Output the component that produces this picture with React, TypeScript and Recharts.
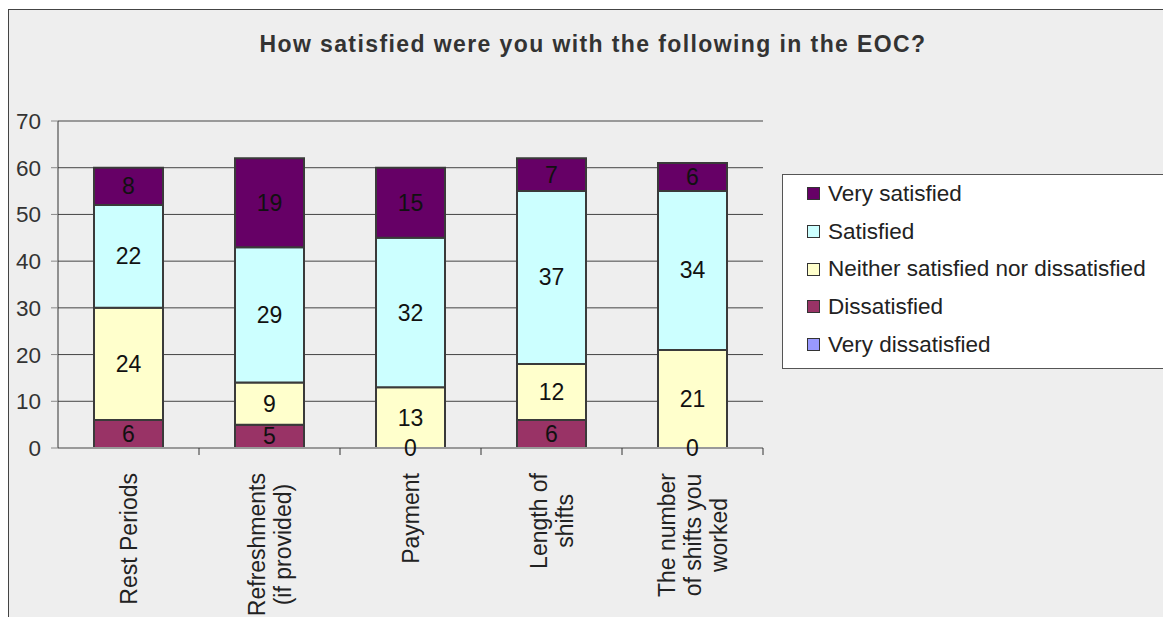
import React from "react";
import { BarChart, Bar, XAxis, YAxis, CartesianGrid, LabelList, Legend } from "recharts";

// categories (line breaks = wrapped axis labels)
const categories = [
  "Rest Periods",
  "Refreshments\n(if provided)",
  "Payment",
  "Length of\nshifts",
  "The number\nof shifts you\nworked",
];

const veryDissatisfied = [null, null, null, null, null];
const dissatisfied = [6, 5, 0, 6, 0];
const neither = [24, 9, 13, 12, 21];
const satisfied = [22, 29, 32, 37, 34];
const verySatisfied = [8, 19, 15, 7, 6];

const yTicks = [0, 10, 20, 30, 40, 50, 60, 70];

const FONT = '"Liberation Sans", Arial, sans-serif';

// bottom to top of the stack
const series = [
  { key: "veryDissatisfied", name: "Very dissatisfied", color: "#9999ff", values: veryDissatisfied },
  { key: "dissatisfied", name: "Dissatisfied", color: "#993366", values: dissatisfied },
  { key: "neither", name: "Neither satisfied nor dissatisfied", color: "#ffffcc", values: neither },
  { key: "satisfied", name: "Satisfied", color: "#ccffff", values: satisfied },
  { key: "verySatisfied", name: "Very satisfied", color: "#660066", values: verySatisfied },
];

const data = categories.map((category, i) => {
  const row: Record<string, any> = { category };
  series.forEach((s) => (row[s.key] = s.values[i]));
  return row;
});

const W = 1154;
const H = 607;
const MARGIN = { top: 111, right: 400, bottom: 0, left: 0 };
const Y_AXIS_W = 49;
const X_AXIS_H = 169;
const AXIS_Y = H - MARGIN.bottom - X_AXIS_H;
const STEP = (W - MARGIN.left - Y_AXIS_W - MARGIN.right) / categories.length;
const LABEL_SIZE = 23;

let ctx: CanvasRenderingContext2D | null = null;
const textWidth = (s: string) => {
  if (!ctx && typeof document !== "undefined") ctx = document.createElement("canvas").getContext("2d");
  if (!ctx) return s.length * 11;
  ctx.font = `${LABEL_SIZE}px ${FONT}`;
  return ctx.measureText(s).width;
};

const CategoryTick = ({ x, payload }: any) => {
  const lines = String(payload.value).split("\n");
  const longest = Math.max(...lines.map(textWidth));
  const cy = AXIS_Y + 25 + longest / 2;
  const n = lines.length;
  return (
    <g>
      <line x1={x + STEP / 2} x2={x + STEP / 2} y1={AXIS_Y} y2={AXIS_Y + 7} stroke="#333" />
      <g transform={`translate(${x},${cy}) rotate(-90)`}>
        {lines.map((l, i) => (
          <text
            key={i}
            x={0}
            y={(i - (n - 1) / 2) * 26}
            textAnchor="middle"
            dominantBaseline="central"
            fontSize={LABEL_SIZE}
            fontFamily={FONT}
            fill="#222"
          >
            {l}
          </text>
        ))}
      </g>
    </g>
  );
};

const numText = (x: number, y: number, v: any, key: string) => (
  <text
    key={key}
    x={x}
    y={y}
    textAnchor="middle"
    dominantBaseline="central"
    fontSize={LABEL_SIZE}
    fontFamily={FONT}
    fill="#111"
  >
    {v}
  </text>
);

// label for each segment; a zero segment just below is labelled at this segment's base
const makeSegLabel = (seriesIdx: number) => (props: any) => {
  const { value, index } = props;
  const vb = props.viewBox ?? props;
  const x = Number(vb.x ?? props.x);
  const y = Number(vb.y ?? props.y);
  const w = Number(vb.width ?? props.width);
  const h = Number(vb.height ?? props.height);
  const out: any[] = [];
  if (value !== null && value !== undefined && value !== 0) out.push(numText(x + w / 2, y + h / 2, value, "v"));
  const below = seriesIdx > 0 ? series[seriesIdx - 1].values[index] : null;
  if (below === 0) out.push(numText(x + w / 2, y + h, 0, "z"));
  return out.length ? <g>{out}</g> : null;
};

const LegendBox = () => (
  <div
    style={{
      width: 392,
      height: 195,
      background: "#fff",
      border: "1px solid #555",
      boxSizing: "border-box",
      fontFamily: FONT,
    }}
  >
    {[...series].reverse().map((s) => (
      <div key={s.key} style={{ display: "flex", alignItems: "center", height: 37.7, paddingLeft: 24 }}>
        <span
          style={{
            display: "inline-block",
            width: 11,
            height: 11,
            background: s.color,
            border: "1px solid #333",
            marginRight: 8,
          }}
        />
        <span style={{ fontSize: 22.5, color: "#222", whiteSpace: "nowrap" }}>{s.name}</span>
      </div>
    ))}
  </div>
);

export default function App() {
  return (
    <>
      <style>{"body{margin:0;overflow:hidden}"}</style>
      <div
        style={{
          position: "absolute",
          left: 8,
          top: 9,
          width: W,
          height: H,
          borderLeft: "1px solid #444",
          borderTop: "1px solid #444",
          background: "#eeeeee",
          overflow: "hidden",
          fontFamily: FONT,
        }}
      >
        <div
          style={{
            position: "absolute",
            left: 0,
            top: 21,
            width: 1168,
            textAlign: "center",
            fontSize: 23,
            lineHeight: "26px",
            fontWeight: "bold",
            letterSpacing: 1.4,
            color: "#333",
            zIndex: 2,
          }}
        >
          How satisfied were you with the following in the EOC?
        </div>
        <BarChart width={W} height={H} data={data} margin={MARGIN}>
          <CartesianGrid vertical={false} stroke="#444" />
          <XAxis
            dataKey="category"
            height={X_AXIS_H}
            interval={0}
            tickLine={false}
            tickSize={0}
            tickMargin={0}
            axisLine={{ stroke: "#999", strokeWidth: 2 }}
            tick={(p: any) => <CategoryTick {...p} />}
          />
          <YAxis
            domain={[0, 70]}
            ticks={yTicks}
            interval={0}
            width={Y_AXIS_W}
            tickSize={7}
            tickMargin={10}
            axisLine={{ stroke: "#333" }}
            tickLine={{ stroke: "#888" }}
            tick={{ fontSize: 22.5, fill: "#333", fontFamily: FONT }}
          />
          <Legend
            layout="vertical"
            align="center"
            verticalAlign="middle"
            wrapperStyle={{ left: 773, top: 164, width: 392, height: 195 }}
            content={() => <LegendBox />}
          />
          {series.map((s, si) => (
            <Bar
              key={s.key}
              dataKey={s.key}
              name={s.name}
              stackId="a"
              fill={s.color}
              stroke="#3a3a3a"
              strokeWidth={2}
              barSize={69}
              isAnimationActive={false}
            >
              <LabelList dataKey={s.key} content={makeSegLabel(si)} />
            </Bar>
          ))}
        </BarChart>
      </div>
    </>
  );
}
